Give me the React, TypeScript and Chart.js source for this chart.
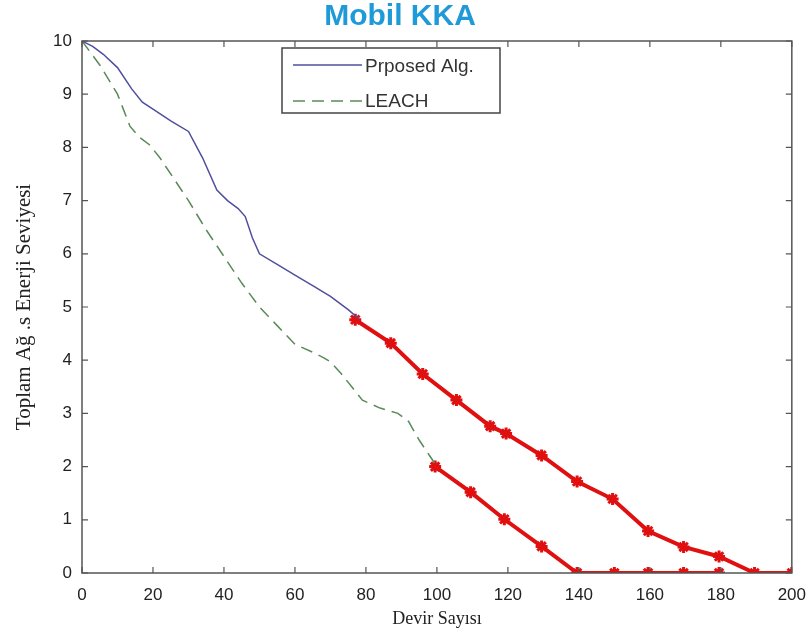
import React, { useEffect, useRef } from "react";
import { Chart, registerables } from "chart.js";

Chart.register(...registerables);

const chartTitle = "Mobil KKA";
const xAxisTitle = "Devir Sayısı";
const yAxisTitle = "Toplam Ağ .s Enerji Seviyesi";
const seriesNames = ["Prposed Alg.", "LEACH"];

const proposedX = [0, 3, 6, 10, 14, 17, 20, 25, 30, 34, 38, 41, 44, 46, 48, 50, 55, 60, 65, 70, 75, 78];
const proposedY = [10, 9.9, 9.75, 9.5, 9.1, 8.85, 8.72, 8.5, 8.3, 7.8, 7.2, 7.0, 6.85, 6.7, 6.3, 6.0, 5.8, 5.6, 5.4, 5.2, 4.95, 4.78];

const leachX = [0, 5, 10, 13.5, 16, 19, 22, 26, 30, 35, 40, 45, 50, 55, 60, 65, 68, 70, 73, 76, 79, 84, 89, 92, 95, 98, 100];
const leachY = [10, 9.55, 9.0, 8.4, 8.2, 8.05, 7.8, 7.4, 7.0, 6.45, 5.95, 5.45, 5.0, 4.65, 4.3, 4.15, 4.05, 3.97, 3.75, 3.5, 3.25, 3.1, 3.0, 2.85, 2.5, 2.2, 2.0];

const proposedRedX = [77, 87, 96, 105.5, 115, 119.5, 129.5, 139.5, 149.5, 159.5, 169.5, 179.5, 189.5, 200];
const proposedRedY = [4.76, 4.32, 3.74, 3.25, 2.76, 2.62, 2.21, 1.72, 1.39, 0.79, 0.49, 0.31, 0, 0];

const leachRedX = [99.5, 109.5, 119, 129.5, 139.5, 150, 159.5, 169.5, 179.5];
const leachRedY = [2.0, 1.52, 1.01, 0.5, 0, 0, 0, 0, 0];

const xTicks = [0, 20, 40, 60, 80, 100, 120, 140, 160, 180, 200];
const yTicks = [0, 1, 2, 3, 4, 5, 6, 7, 8, 9, 10];

const BLUE = "#4f4f9e";
const GREEN = "#5a8a5a";
const RED = "#e01010";
const TITLE_BLUE = "#1f9ad8";

const toPts = (xs: number[], ys: number[]) => xs.map((x, i) => ({ x, y: ys[i] }));

const framePlugin = {
  id: "matlabFrame",
  afterDatasetsDraw(chart: any) {
    const { ctx, chartArea: a, scales } = chart;
    ctx.save();
    ctx.strokeStyle = "#555";
    ctx.lineWidth = 1.5;
    ctx.strokeRect(a.left, a.top, a.right - a.left, a.bottom - a.top);
    const tl = 6;
    ctx.lineWidth = 1.2;
    ctx.beginPath();
    xTicks.forEach((v) => {
      const px = scales.x.getPixelForValue(v);
      ctx.moveTo(px, a.bottom);
      ctx.lineTo(px, a.bottom - tl);
      ctx.moveTo(px, a.top);
      ctx.lineTo(px, a.top + tl);
    });
    yTicks.forEach((v) => {
      const py = scales.y.getPixelForValue(v);
      ctx.moveTo(a.left, py);
      ctx.lineTo(a.left + tl, py);
      ctx.moveTo(a.right, py);
      ctx.lineTo(a.right - tl, py);
    });
    ctx.stroke();

    // legend box
    const lx = 282, ly = 48, lw = 218, lh = 65;
    ctx.fillStyle = "#fff";
    ctx.fillRect(lx, ly, lw, lh);
    ctx.strokeStyle = "#444";
    ctx.lineWidth = 1.5;
    ctx.strokeRect(lx, ly, lw, lh);
    ctx.lineWidth = 1.5;
    ctx.strokeStyle = BLUE;
    ctx.beginPath();
    ctx.moveTo(293, 65);
    ctx.lineTo(362, 65);
    ctx.stroke();
    ctx.strokeStyle = GREEN;
    ctx.setLineDash([12, 7]);
    ctx.beginPath();
    ctx.moveTo(293, 101);
    ctx.lineTo(362, 101);
    ctx.stroke();
    ctx.setLineDash([]);
    ctx.fillStyle = "#333";
    ctx.font = "19px 'Liberation Sans', Arial, sans-serif";
    ctx.textBaseline = "middle";
    ctx.textAlign = "left";
    ctx.fillText(seriesNames[0], 365, 67);
    ctx.fillText(seriesNames[1], 365, 102);

    // title
    ctx.fillStyle = TITLE_BLUE;
    ctx.font = "bold 30px 'Liberation Sans', Arial, sans-serif";
    ctx.textAlign = "center";
    ctx.fillText(chartTitle, 400, 17);
    ctx.restore();
  },
};

export default function App() {
  const ref = useRef<HTMLCanvasElement | null>(null);
  useEffect(() => {
    if (!ref.current) return;
    const chart = new Chart(ref.current, {
      type: "scatter",
      data: {
        datasets: [
          {
            label: seriesNames[0],
            data: toPts(proposedX, proposedY),
            showLine: true,
            borderColor: BLUE,
            borderWidth: 1.5,
            pointRadius: 0,
          },
          {
            label: seriesNames[1],
            data: toPts(leachX, leachY),
            showLine: true,
            borderColor: GREEN,
            borderWidth: 1.5,
            borderDash: [12, 7],
            pointRadius: 0,
          },
          {
            label: "LEACH-red",
            data: toPts(leachRedX, leachRedY),
            showLine: true,
            borderColor: RED,
            borderWidth: 4,
            pointStyle: "star",
            pointRadius: 6,
            pointBorderWidth: 3,
            pointBorderColor: RED,
            pointBackgroundColor: RED,
          },
          {
            label: "Proposed-red",
            data: toPts(proposedRedX, proposedRedY),
            showLine: true,
            borderColor: RED,
            borderWidth: 4,
            pointStyle: "star",
            pointRadius: 6,
            pointBorderWidth: 3,
            pointBorderColor: RED,
            pointBackgroundColor: RED,
          },
        ],
      },
      options: {
        animation: false,
        responsive: false,
        maintainAspectRatio: false,
        layout: { padding: { top: 41, right: 18, left: 0, bottom: 0 } },
        plugins: {
          legend: { display: false },
          title: { display: false },
          tooltip: { enabled: false },
        },
        scales: {
          x: {
            type: "linear",
            min: 0,
            max: 200,
            afterBuildTicks: (s: any) => {
              s.ticks = xTicks.map((v) => ({ value: v }));
            },
            afterFit: (s: any) => {
              s.height = 64;
            },
            grid: { display: false },
            border: { display: false },
            ticks: {
              color: "#222",
              font: { family: "'Liberation Sans', Arial, sans-serif", size: 17 },
              padding: 4,
              maxRotation: 0,
            },
            title: {
              display: true,
              text: xAxisTitle,
              color: "#222",
              font: { family: "'Liberation Serif', 'Times New Roman', serif", size: 18 },
              padding: { top: 0, bottom: 7 },
            },
          },
          y: {
            type: "linear",
            min: 0,
            max: 10,
            afterBuildTicks: (s: any) => {
              s.ticks = yTicks.map((v) => ({ value: v }));
            },
            afterFit: (s: any) => {
              s.width = 82;
            },
            grid: { display: false },
            border: { display: false },
            ticks: {
              color: "#222",
              font: { family: "'Liberation Sans', Arial, sans-serif", size: 17 },
              padding: 2,
            },
            title: {
              display: true,
              text: yAxisTitle,
              color: "#222",
              font: { family: "'Liberation Serif', 'Times New Roman', serif", size: 21 },
              padding: { top: 12, bottom: 0 },
            },
          },
        },
      },
      plugins: [framePlugin],
    } as any);
    return () => chart.destroy();
  }, []);
  return (
    <div style={{ position: "fixed", left: 0, top: 0, width: 810, height: 637, background: "#fff" }}>
      <canvas ref={ref} width={810} height={637} />
    </div>
  );
}
